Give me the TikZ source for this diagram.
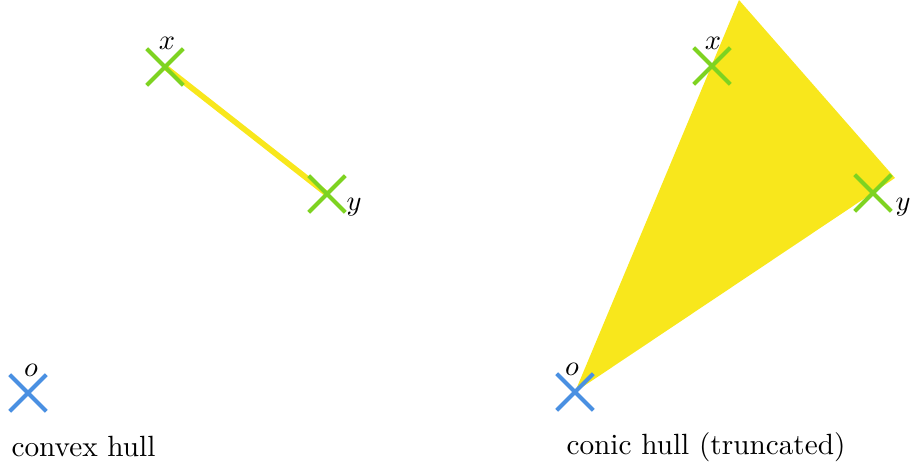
\documentclass[tikz,border=0pt]{standalone}
\usetikzlibrary{shapes.misc}
\definecolor{ptblue}{HTML}{4A90E2}
\definecolor{ptgreen}{HTML}{7ED321}
\definecolor{hullyellow}{HTML}{F8E71C}
\begin{document}
\begin{tikzpicture}[x=0.352pt,y=-0.352pt,
  font=\fontsize{10.3}{12}\selectfont,
  pt/.style={cross out, draw, line width=1.4pt, minimum size=11.5pt, inner sep=0pt},
  bluept/.style={pt, draw=ptblue},
  greenpt/.style={pt, draw=ptgreen},
  lbl/.style={inner sep=0pt, anchor=center}]
\useasboundingbox (0,0) rectangle (911,469);
% left panel
\coordinate (o1) at (28,393);
\coordinate (x1) at (165,67);
\coordinate (y1) at (327,194);
\draw[hullyellow, line width=2pt] (x1) -- (y1);
\node[bluept] (O1) at (o1) {};
\node[greenpt] (X1) at (x1) {};
\node[greenpt] (Y1) at (y1) {};
\node[lbl] (lo1) at (31,370) {$o$};
\node[lbl] (lx1) at (167,43) {$x$};
\node[lbl] (ly1) at (354,207) {$y$};
\node[lbl, anchor=west] (t1) at (11,447) {convex hull};
% right panel
\coordinate (o2) at (575,392);
\coordinate (x2) at (712,66);
\coordinate (y2) at (873,193);
\coordinate (c2a) at (739,0);
\coordinate (c2b) at (895,178);
\fill[hullyellow] (o2) -- (c2a) -- (c2b) -- cycle;
\node[bluept] (O2) at (o2) {};
\node[greenpt] (X2) at (x2) {};
\node[greenpt] (Y2) at (y2) {};
\node[lbl] (lo2) at (572,369) {$o$};
\node[lbl] (lx2) at (713,43) {$x$};
\node[lbl] (ly2) at (903,207) {$y$};
\node[lbl, anchor=west] (t2) at (566,447) {conic hull (truncated)};
\end{tikzpicture}
\end{document}
